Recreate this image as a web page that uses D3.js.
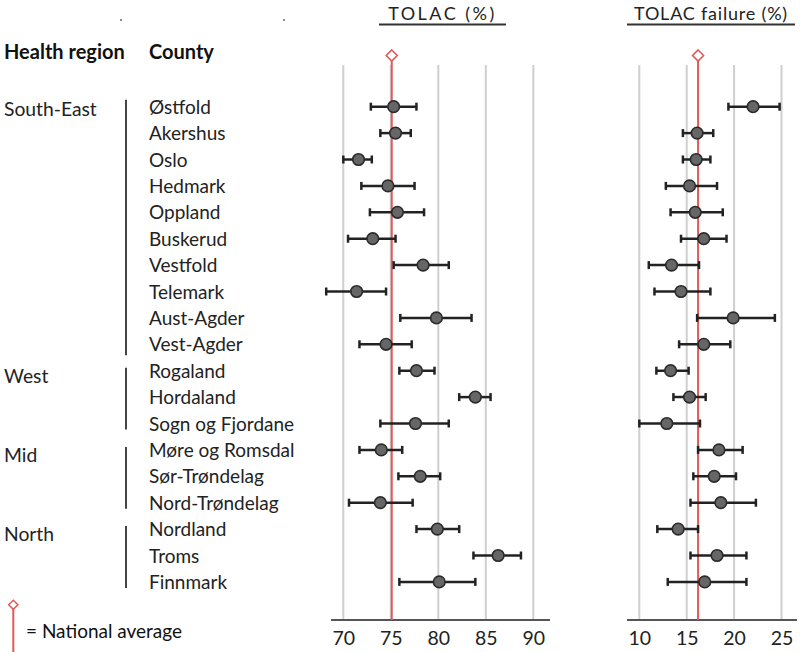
<!DOCTYPE html>
<html>
<head>
<meta charset="utf-8">
<script src="https://cdn.jsdelivr.net/npm/d3@7"></script>
<style>
  html, body { margin: 0; padding: 0; background: #fff; }
  svg { display: block; font-family: Lato, "Open Sans", sans-serif; }
</style>
</head>
<body>
<svg id="chart" width="800" height="652"></svg>
<script>
const counties = ["Østfold","Akershus","Oslo","Hedmark","Oppland","Buskerud","Vestfold","Telemark","Aust-Agder","Vest-Agder","Rogaland","Hordaland","Sogn og Fjordane","Møre og Romsdal","Sør-Trøndelag","Nord-Trøndelag","Nordland","Troms","Finnmark"];
const regionOf = ["South-East","South-East","South-East","South-East","South-East","South-East","South-East","South-East","South-East","South-East","West","West","West","Mid","Mid","Mid","North","North","North"];
const regions = ["South-East","West","Mid","North"];

const tolac   = [75.3, 75.5, 71.6, 74.7, 75.7, 73.1, 78.4, 71.4, 79.8, 74.5, 77.7, 83.9, 77.6, 74.0, 78.1, 73.9, 79.9, 86.3, 80.1];
const tolacLo = [72.9, 73.9, 70.0, 71.9, 72.8, 70.5, 75.3, 68.2, 76.0, 71.7, 75.9, 82.2, 73.9, 71.7, 75.8, 70.6, 77.7, 83.7, 75.9];
const tolacHi = [77.7, 77.1, 73.0, 77.5, 78.5, 75.5, 81.1, 74.5, 83.5, 77.2, 79.6, 85.5, 81.1, 76.2, 80.2, 77.3, 82.2, 88.7, 83.9];

const fail    = [22.0, 16.1, 16.0, 15.3, 15.9, 16.8, 13.4, 14.4, 19.9, 16.8, 13.3, 15.3, 12.9, 18.4, 17.9, 18.6, 14.1, 18.2, 16.9];
const failLo  = [19.4, 14.6, 14.6, 12.8, 13.3, 14.4, 11.0, 11.6, 16.1, 14.2, 11.8, 13.6, 10.0, 16.2, 15.7, 15.4, 11.9, 15.4, 13.0];
const failHi  = [24.8, 17.8, 17.5, 18.2, 18.8, 19.2, 16.3, 17.5, 24.3, 19.6, 15.2, 17.0, 16.4, 20.9, 20.2, 22.3, 16.2, 21.3, 21.3];

const tolacTicks = [70, 75, 80, 85, 90];
const failTicks  = [10, 15, 20, 25];
const nationalTolac = 75.1;
const nationalFail  = 16.2;

const svg = d3.select("#chart");

const y = d3.scalePoint().domain(counties).range([106.7, 581.9]);
const xT = d3.scaleLinear().domain([70, 90]).range([343.3, 533.3]);
const xF = d3.scaleLinear().domain([10, 25]).range([639.3, 781.5]);

const gridTop = 65, axisY = 620;
const fontFam = "Lato, 'Open Sans', sans-serif";
const red = "#e05a5a";

function diamond(cx, cy, r) {
  return `M${cx},${cy - r}L${cx + r},${cy}L${cx},${cy + r}L${cx - r},${cy}Z`;
}

// stray specks at the top
svg.append("circle").attr("cx", 121).attr("cy", 20).attr("r", 1).attr("fill", "#666");
svg.append("circle").attr("cx", 284).attr("cy", 20).attr("r", 1).attr("fill", "#666");

// Column headers
svg.append("text").attr("x", 4).attr("y", 59).text("Health region")
  .attr("font-weight", 700).attr("font-size", 20).attr("fill", "#111");
svg.append("text").attr("x", 149).attr("y", 59).text("County")
  .attr("font-weight", 700).attr("font-size", 20).attr("fill", "#111");

// Region labels + brackets
regions.forEach(r => {
  const idx = counties.filter((c, i) => regionOf[i] === r);
  const first = idx[0], last = idx[idx.length - 1];
  svg.append("text").attr("x", 4).attr("y", y(first) + (r === "South-East" ? 9 : 12))
    .text(r).attr("font-size", 19.3).attr("fill", "#222");
  svg.append("line").attr("x1", 126).attr("x2", 126)
    .attr("y1", y(first) - (r === "South-East" ? 7 : 3))
    .attr("y2", y(last) + (r === "South-East" ? 11 : 6))
    .attr("stroke", "#444").attr("stroke-width", 2);
});

// County labels
svg.append("g").selectAll("text").data(counties).join("text")
  .attr("x", 149).attr("y", d => y(d) + 7)
  .text(d => d).attr("font-size", 19).attr("fill", "#222");

function panel(x, ticks, lo, hi, est, nat, title, titleLS, axisFrom, axisTo, ulFrom, ulTo) {
  const g = svg.append("g");
  // title
  g.append("text").attr("x", (ulFrom + ulTo) / 2).attr("y", 19.5).attr("text-anchor", "middle")
    .text(title).attr("font-size", 18).attr("letter-spacing", titleLS).attr("fill", "#222");
  g.append("line").attr("x1", ulFrom).attr("x2", ulTo).attr("y1", 24.5).attr("y2", 24.5)
    .attr("stroke", "#333").attr("stroke-width", 2);
  // grid
  g.append("g").selectAll("line").data(ticks).join("line")
    .attr("x1", d => x(d)).attr("x2", d => x(d))
    .attr("y1", gridTop).attr("y2", axisY)
    .attr("stroke", "#cfcfcf").attr("stroke-width", 2);
  // axis
  const axis = d3.axisBottom(x).tickValues(ticks).tickSize(0).tickPadding(11).tickFormat(d3.format("d"));
  const ag = g.append("g").attr("transform", `translate(0,${axisY})`).call(axis);
  ag.select(".domain").remove();
  ag.selectAll("text").attr("font-size", 19.5).attr("font-family", fontFam).attr("fill", "#222");
  g.append("line").attr("x1", axisFrom).attr("x2", axisTo).attr("y1", axisY).attr("y2", axisY)
    .attr("stroke", "#555").attr("stroke-width", 2);
  // national average
  g.append("line").attr("x1", x(nat)).attr("x2", x(nat)).attr("y1", 61).attr("y2", axisY)
    .attr("stroke", red).attr("stroke-width", 2);
  g.append("path").attr("d", diamond(x(nat), 55.5, 5.5))
    .attr("fill", "#fff").attr("stroke", red).attr("stroke-width", 1.6);
  // error bars
  const rows = counties.map((c, i) => ({c, lo: lo[i], hi: hi[i], est: est[i]}));
  const eb = g.append("g").selectAll("g").data(rows).join("g");
  eb.append("line").attr("x1", d => x(d.lo)).attr("x2", d => x(d.hi))
    .attr("y1", d => y(d.c)).attr("y2", d => y(d.c))
    .attr("stroke", "#222").attr("stroke-width", 2.5);
  eb.append("line").attr("x1", d => x(d.lo)).attr("x2", d => x(d.lo))
    .attr("y1", d => y(d.c) - 4).attr("y2", d => y(d.c) + 4)
    .attr("stroke", "#222").attr("stroke-width", 2.5);
  eb.append("line").attr("x1", d => x(d.hi)).attr("x2", d => x(d.hi))
    .attr("y1", d => y(d.c) - 4).attr("y2", d => y(d.c) + 4)
    .attr("stroke", "#222").attr("stroke-width", 2.5);
  eb.append("circle").attr("cx", d => x(d.est)).attr("cy", d => y(d.c)).attr("r", 5.8)
    .attr("fill", "#666").attr("stroke", "#2a2a2a").attr("stroke-width", 1.6);
}

panel(xT, tolacTicks, tolacLo, tolacHi, tolac, nationalTolac, "TOLAC (%)", 2.5, 331, 550, 379, 506);
panel(xF, failTicks, failLo, failHi, fail, nationalFail, "TOLAC failure (%)", 0.8, 627, 797, 627, 795);

// Legend
svg.append("line").attr("x1", 13.3).attr("x2", 13.3).attr("y1", 609).attr("y2", 652)
  .attr("stroke", red).attr("stroke-width", 2);
svg.append("path").attr("d", diamond(13.3, 604.8, 4.6))
  .attr("fill", "#fff").attr("stroke", red).attr("stroke-width", 1.5);
svg.append("text").attr("x", 26).attr("y", 638).text("= National average")
  .attr("font-size", 19).attr("fill", "#111");
</script>
</body>
</html>
